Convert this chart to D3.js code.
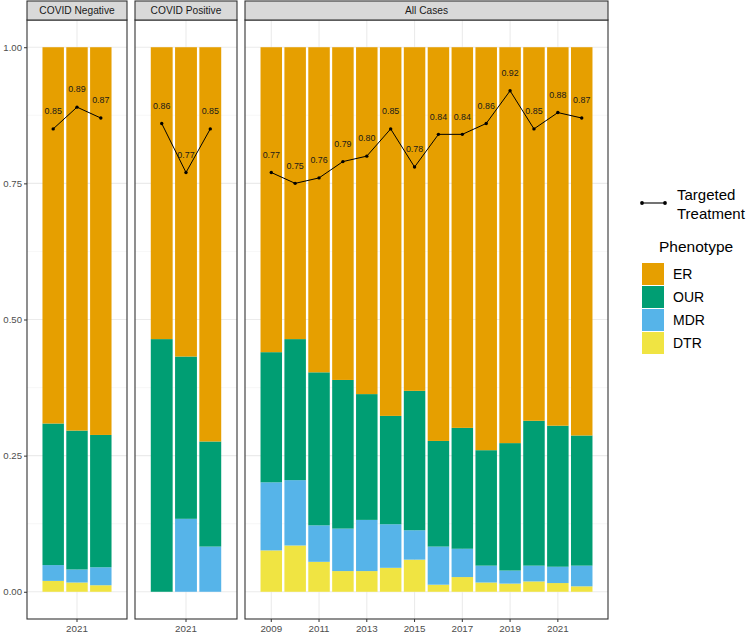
<!DOCTYPE html>
<html>
<head>
<meta charset="utf-8">
<script src="https://cdn.jsdelivr.net/npm/d3@7"></script>
<style>
  body { margin: 0; background: #fff; }
  svg { display: block; font-family: "Liberation Sans", Arial, sans-serif; }
</style>
</head>
<body>
<svg id="chart" width="750" height="634"></svg>
<script>
// ---------------- DATA ----------------
const panelNames = ["COVID Negative", "COVID Positive", "All Cases"];

const negYears = ["2020", "2021", "2022"];
const negDTR = [0.020, 0.017, 0.012];
const negMDR = [0.029, 0.024, 0.033];
const negOUR = [0.260, 0.255, 0.243];
const negER  = [0.691, 0.704, 0.712];
const negTargeted = [0.85, 0.89, 0.87];

const posYears = ["2020", "2021", "2022"];
const posDTR = [0.000, 0.000, 0.000];
const posMDR = [0.000, 0.134, 0.083];
const posOUR = [0.464, 0.298, 0.193];
const posER  = [0.536, 0.568, 0.724];
const posTargeted = [0.86, 0.77, 0.85];

const allYears = ["2009", "2010", "2011", "2012", "2013", "2014", "2015", "2016", "2017", "2018", "2019", "2020", "2021", "2022"];
const allDTR = [0.076, 0.085, 0.055, 0.038, 0.038, 0.044, 0.059, 0.013, 0.027, 0.017, 0.015, 0.019, 0.016, 0.010];
const allMDR = [0.125, 0.120, 0.067, 0.078, 0.094, 0.080, 0.054, 0.070, 0.052, 0.031, 0.024, 0.029, 0.030, 0.038];
const allOUR = [0.239, 0.259, 0.281, 0.273, 0.231, 0.199, 0.256, 0.194, 0.222, 0.212, 0.234, 0.266, 0.259, 0.239];
const allER  = [0.560, 0.536, 0.597, 0.611, 0.637, 0.677, 0.631, 0.723, 0.699, 0.740, 0.727, 0.686, 0.695, 0.713];
const allTargeted = [0.77, 0.75, 0.76, 0.79, 0.80, 0.85, 0.78, 0.84, 0.84, 0.86, 0.92, 0.85, 0.88, 0.87];

const xTickLabels = ["2009", "2011", "2013", "2015", "2017", "2019", "2021"];
const yTicks = [0, 0.25, 0.5, 0.75, 1];
const yMinor = [0.125, 0.375, 0.625, 0.875];

const phenotypes = ["ER", "OUR", "MDR", "DTR"];
const phenoColors = ["#E69F00", "#009E73", "#56B4E9", "#F0E442"];

// ---------------- LAYOUT ----------------
const svg = d3.select("#chart");
const panelTop = 20, panelBottom = 619, stripTop = 1;
const panelRanges = [[27, 127], [135, 237], [245, 608]];

const panelData = [
  { years: negYears, DTR: negDTR, MDR: negMDR, OUR: negOUR, ER: negER, tt: negTargeted },
  { years: posYears, DTR: posDTR, MDR: posMDR, OUR: posOUR, ER: posER, tt: posTargeted },
  { years: allYears, DTR: allDTR, MDR: allMDR, OUR: allOUR, ER: allER, tt: allTargeted }
];

const y = d3.scaleLinear().domain([-0.05, 1.05]).range([panelBottom, panelTop]);
const color = d3.scaleOrdinal().domain(phenotypes).range(phenoColors);
const stackOrder = ["DTR", "MDR", "OUR", "ER"];

panelData.forEach((pd, pi) => {
  const [x0, x1] = panelRanges[pi];
  const x = d3.scaleBand().domain(pd.years).range([x0, x1]).paddingInner(0.1).paddingOuter(0.65);
  const g = svg.append("g");

  g.append("rect").attr("x", x0).attr("y", panelTop).attr("width", x1 - x0)
    .attr("height", panelBottom - panelTop).attr("fill", "#fff");

  g.selectAll(".ymin").data(yMinor).enter().append("line")
    .attr("x1", x0).attr("x2", x1).attr("y1", d => y(d)).attr("y2", d => y(d))
    .attr("stroke", "#F2F2F2").attr("stroke-width", 0.6);
  g.selectAll(".ymaj").data(yTicks).enter().append("line")
    .attr("x1", x0).attr("x2", x1).attr("y1", d => y(d)).attr("y2", d => y(d))
    .attr("stroke", "#EBEBEB").attr("stroke-width", 1.1);
  const shown = pd.years.filter(d => xTickLabels.includes(d));
  g.selectAll(".xg").data(shown).enter().append("line")
    .attr("x1", d => x(d) + x.bandwidth() / 2).attr("x2", d => x(d) + x.bandwidth() / 2)
    .attr("y1", panelTop).attr("y2", panelBottom)
    .attr("stroke", "#EBEBEB").attr("stroke-width", 1.1);

  const rows = pd.years.map((yr, i) => {
    const r = { year: yr };
    stackOrder.forEach(k => r[k] = pd[k][i]);
    return r;
  });
  const series = d3.stack().keys(stackOrder)(rows);
  series.forEach(s => {
    g.selectAll(null).data(s).enter().append("rect")
      .attr("x", d => x(d.data.year))
      .attr("width", x.bandwidth())
      .attr("y", d => y(d[1]))
      .attr("height", d => Math.max(0, y(d[0]) - y(d[1])))
      .attr("fill", color(s.key));
  });

  const pts = pd.years.map((yr, i) => ({ year: yr, v: pd.tt[i] }));
  const line = d3.line().x(d => x(d.year) + x.bandwidth() / 2).y(d => y(d.v));
  g.append("path").datum(pts).attr("d", line).attr("fill", "none")
    .attr("stroke", "#000").attr("stroke-width", 1);
  g.selectAll(".pt").data(pts).enter().append("circle")
    .attr("cx", d => x(d.year) + x.bandwidth() / 2).attr("cy", d => y(d.v))
    .attr("r", 1.7).attr("fill", "#000");
  g.selectAll(".lbl").data(pts).enter().append("text")
    .attr("x", d => x(d.year) + x.bandwidth() / 2).attr("y", d => y(d.v) - 14.8)
    .attr("text-anchor", "middle").attr("font-size", 8.9).attr("fill", "#1a1a1a")
    .text(d => d3.format(".2f")(d.v));

  g.append("rect").attr("x", x0).attr("y", panelTop).attr("width", x1 - x0)
    .attr("height", panelBottom - panelTop).attr("fill", "none")
    .attr("stroke", "#333").attr("stroke-width", 1.1);

  g.append("rect").attr("x", x0).attr("y", stripTop).attr("width", x1 - x0)
    .attr("height", panelTop - stripTop).attr("fill", "#D9D9D9")
    .attr("stroke", "#333").attr("stroke-width", 1.1);
  g.append("text").attr("x", (x0 + x1) / 2).attr("y", (stripTop + panelTop) / 2 + 3.6)
    .attr("text-anchor", "middle").attr("font-size", 10.2).attr("fill", "#1A1A1A")
    .text(panelNames[pi]);

  const xAxis = d3.axisBottom(x).tickValues(shown).tickSize(3).tickPadding(3);
  const ax = g.append("g").attr("transform", `translate(0,${panelBottom})`).call(xAxis);
  ax.select(".domain").remove();
  ax.selectAll(".tick line").attr("stroke", "#333");
  ax.selectAll(".tick text").attr("font-size", 9.8).attr("fill", "#4D4D4D")
    .attr("font-family", "Liberation Sans, Arial, sans-serif");

  if (pi === 0) {
    const yAxis = d3.axisLeft(y).tickValues(yTicks).tickFormat(d3.format(".2f")).tickSize(3).tickPadding(2);
    const ay = g.append("g").attr("transform", `translate(${x0},0)`).call(yAxis);
    ay.select(".domain").remove();
    ay.selectAll(".tick line").attr("stroke", "#333");
    ay.selectAll(".tick text").attr("font-size", 9.6).attr("fill", "#4D4D4D")
      .attr("font-family", "Liberation Sans, Arial, sans-serif");
  }
});

// ---------------- LEGEND ----------------
const lg = svg.append("g");
lg.append("line").attr("x1", 642).attr("x2", 665).attr("y1", 203).attr("y2", 203)
  .attr("stroke", "#000").attr("stroke-width", 1.1);
lg.append("circle").attr("cx", 642).attr("cy", 203).attr("r", 1.9).attr("fill", "#000");
lg.append("circle").attr("cx", 665).attr("cy", 203).attr("r", 1.9).attr("fill", "#000");
lg.append("text").attr("x", 677).attr("y", 199.5).attr("font-size", 15).attr("fill", "#000").text("Targeted");
lg.append("text").attr("x", 677).attr("y", 219).attr("font-size", 15).attr("fill", "#000").text("Treatment");

lg.append("text").attr("x", 659).attr("y", 251.5).attr("font-size", 15.5).attr("fill", "#000").text("Phenotype");
phenotypes.forEach((p, i) => {
  const ky = 263 + i * 23;
  lg.append("rect").attr("x", 642).attr("y", ky).attr("width", 22).attr("height", 22)
    .attr("fill", color(p));
  lg.append("text").attr("x", 673).attr("y", ky + 16).attr("font-size", 14).attr("fill", "#000").text(p);
});
</script>
</body>
</html>
